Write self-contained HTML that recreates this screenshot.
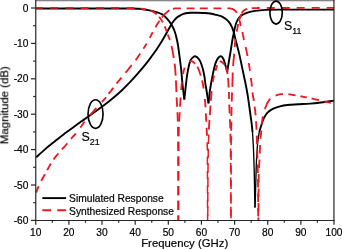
<!DOCTYPE html>
<html><head><meta charset="utf-8"><title>Filter response</title>
<style>
html,body{margin:0;padding:0;background:#fff;}
body{width:342px;height:250px;overflow:hidden;font-family:"Liberation Sans",sans-serif;}
svg{display:block;font-family:"Liberation Sans",sans-serif;}
.tl,.ti,.lg{will-change:transform}
.k{fill:none;stroke:#000;stroke-width:1.9;stroke-linejoin:round;stroke-linecap:butt}
.r{fill:none;stroke:#ee1822;stroke-width:1.85;stroke-dasharray:8.1 7.1;stroke-linejoin:round}
.rd{fill:none;stroke:#ee1822;stroke-width:1.85;stroke-linejoin:round;stroke-linecap:butt}
.ax line{stroke:#262626;stroke-width:1.2}
.tl text{font-size:10.2px;fill:#000;stroke:#000;stroke-width:.2}
.lg text{font-size:10.25px;fill:#000;stroke:#000;stroke-width:.2}
.ti text{font-size:11px;fill:#000;stroke:#000;stroke-width:.2}
</style></head><body>
<svg width="342" height="250" viewBox="0 0 342 250">
<rect width="342" height="250" fill="#fff"/>
<defs><clipPath id="c"><rect x="35.75" y="0.8" width="298.4" height="219.6"/></clipPath></defs>
<g clip-path="url(#c)">
<path class="k"  d="M36.20 157.30C37.52 156.10 41.62 152.27 44.10 150.10C46.58 147.93 49.05 145.97 51.10 144.30C53.15 142.63 54.92 141.28 56.40 140.10C57.88 138.92 58.57 138.33 60.00 137.20C61.43 136.07 63.23 134.63 65.00 133.30C66.77 131.97 68.80 130.50 70.60 129.20C72.40 127.90 74.05 126.77 75.80 125.50C77.55 124.23 78.60 123.38 81.10 121.60C83.60 119.82 87.57 117.12 90.80 114.80C94.03 112.48 97.13 110.22 100.50 107.70C103.87 105.18 107.52 102.53 111.00 99.70C114.48 96.87 118.20 93.67 121.40 90.70C124.60 87.73 127.27 85.00 130.20 81.90C133.13 78.80 136.35 75.15 139.00 72.10C141.65 69.05 144.05 66.15 146.10 63.60C148.15 61.05 149.58 59.12 151.30 56.80C153.02 54.48 154.75 52.12 156.40 49.70C158.05 47.28 159.62 44.88 161.20 42.30C162.78 39.72 164.55 36.58 165.90 34.20C167.25 31.82 168.25 29.87 169.30 28.00C170.35 26.13 170.98 24.70 172.20 23.00C173.42 21.30 175.10 19.17 176.60 17.80C178.10 16.43 179.67 15.57 181.20 14.80C182.73 14.03 184.17 13.54 185.80 13.20C187.43 12.86 189.13 12.82 191.00 12.75C192.87 12.68 195.00 12.76 197.00 12.80C199.00 12.84 200.83 12.88 203.00 13.00C205.17 13.12 208.00 13.23 210.00 13.50C212.00 13.77 213.17 14.15 215.00 14.60C216.83 15.05 219.20 15.47 221.00 16.20C222.80 16.93 224.40 17.93 225.80 19.00C227.20 20.07 228.40 21.30 229.40 22.60C230.40 23.90 231.10 25.30 231.80 26.80C232.50 28.30 233.10 30.00 233.60 31.60C234.10 33.20 234.47 35.00 234.80 36.40C235.13 37.80 235.28 38.73 235.60 40.00C235.92 41.27 236.07 41.57 236.70 44.00C237.33 46.43 238.52 50.78 239.40 54.60C240.28 58.42 241.13 62.80 242.00 66.90C242.87 71.00 243.87 75.68 244.60 79.20C245.33 82.72 245.80 84.77 246.40 88.00C247.00 91.23 247.62 94.78 248.20 98.60C248.78 102.42 249.33 106.80 249.90 110.90C250.47 115.00 251.17 119.68 251.60 123.20C252.03 126.72 252.35 130.53 252.50 132.00"/>
<path class="k" style="stroke-width:1.35" d="M252.50 132.00C252.67 134.93 253.22 143.27 253.50 149.60C253.78 155.93 254.00 162.27 254.20 170.00C254.40 177.73 254.57 189.75 254.70 196.00C254.83 202.25 254.95 205.58 255.00 207.50"/>
<path class="k" style="stroke-width:1.35" d="M255.00 207.50C255.07 205.58 255.20 202.58 255.40 196.00C255.60 189.42 255.95 175.17 256.20 168.00C256.45 160.83 256.62 157.53 256.90 153.00C257.18 148.47 257.50 144.30 257.90 140.80C258.30 137.30 259.07 133.47 259.30 132.00"/>
<path class="k"  d="M259.30 132.00C259.65 130.83 260.62 127.35 261.40 125.00C262.18 122.65 262.98 119.97 264.00 117.90C265.02 115.83 266.03 114.12 267.50 112.60C268.97 111.08 270.72 109.85 272.80 108.80C274.88 107.75 277.58 106.93 280.00 106.30C282.42 105.67 284.32 105.33 287.30 105.00C290.28 104.67 294.08 104.53 297.90 104.30C301.72 104.07 306.38 103.90 310.20 103.60C314.02 103.30 317.87 102.85 320.80 102.50C323.73 102.15 325.58 101.82 327.80 101.50C330.02 101.18 333.05 100.75 334.10 100.60"/>
<path class="k"  d="M35.50 8.45C42.92 8.45 64.25 8.43 80.00 8.45C95.75 8.47 119.90 8.46 130.00 8.55C140.10 8.64 137.37 8.69 140.60 9.00C143.83 9.31 146.77 9.87 149.40 10.40C152.03 10.93 154.20 11.50 156.40 12.20C158.60 12.90 160.83 13.52 162.60 14.60C164.37 15.68 165.53 17.05 167.00 18.70C168.47 20.35 170.08 22.28 171.40 24.50C172.72 26.72 173.93 29.25 174.90 32.00C175.87 34.75 176.67 38.67 177.20 41.00C177.73 43.33 177.72 43.50 178.10 46.00C178.48 48.50 179.00 52.17 179.50 56.00C180.00 59.83 180.58 64.17 181.10 69.00C181.62 73.83 182.07 79.92 182.60 85.00C183.13 90.08 184.02 97.08 184.30 99.50"/>
<path class="k"  d="M184.30 99.50C184.55 97.25 185.30 90.27 185.80 86.00C186.30 81.73 186.60 77.97 187.30 73.90C188.00 69.83 189.12 64.30 190.00 61.60C190.88 58.90 191.73 58.58 192.60 57.70C193.47 56.82 194.17 56.08 195.20 56.30C196.23 56.52 197.77 57.68 198.80 59.00C199.83 60.32 200.53 61.72 201.40 64.20C202.27 66.68 203.33 70.60 204.00 73.90C204.67 77.20 205.02 81.48 205.40 84.00C205.78 86.52 205.78 85.77 206.30 89.00C206.82 92.23 208.13 101.00 208.50 103.40"/>
<path class="k"  d="M208.50 103.40C208.80 100.83 209.57 92.92 210.30 88.00C211.03 83.08 212.03 78.00 212.90 73.90C213.77 69.80 214.63 66.03 215.50 63.40C216.37 60.77 217.17 59.28 218.10 58.10C219.03 56.92 220.22 56.15 221.10 56.30C221.98 56.45 222.72 57.65 223.40 59.00C224.08 60.35 224.57 62.23 225.20 64.40C225.83 66.57 226.87 70.73 227.20 72.00"/>
<path class="k"  d="M227.20 72.00C227.47 70.33 228.23 65.42 228.80 62.00C229.37 58.58 230.00 55.17 230.60 51.50C231.20 47.83 231.90 42.92 232.40 40.00C232.90 37.08 233.20 36.00 233.60 34.00C234.00 32.00 234.30 30.00 234.80 28.00C235.30 26.00 235.90 23.70 236.60 22.00C237.30 20.30 238.00 19.00 239.00 17.80C240.00 16.60 241.20 15.67 242.60 14.80C244.00 13.93 245.33 13.25 247.40 12.60C249.47 11.95 251.93 11.35 255.00 10.90C258.07 10.45 261.63 10.12 265.80 9.90C269.97 9.68 274.30 9.65 280.00 9.60C285.70 9.55 290.98 9.60 300.00 9.60C309.02 9.60 328.42 9.60 334.10 9.60"/>
<path class="rd" d="M36.2 192.6L36.5 191.8L36.8 191.1L37.0 190.5L37.2 189.8L37.5 189.2L37.7 188.5L38.0 187.9L38.2 187.2L38.5 186.6L38.6 186.2M41.3 180.8L41.7 180.0L42.1 179.3L42.5 178.5L42.9 177.7L43.4 176.9L43.8 176.1L44.3 175.2L44.8 174.4L44.8 174.3M47.2 170.1L47.7 169.2L48.2 168.3L48.7 167.4L49.2 166.5L49.7 165.6L50.2 164.7L50.7 163.8L50.9 163.6M53.5 159.6L54.0 158.8L54.6 158.1L55.1 157.3L55.7 156.6L56.3 155.9L56.9 155.2L57.5 154.5L58.1 153.8L58.4 153.4M61.8 149.4L62.3 148.9L63.0 148.1L63.8 147.3L64.5 146.5L65.2 145.8L65.9 145.0L66.5 144.3L67.1 143.7L67.4 143.4M71.0 138.9L71.4 138.4L71.8 137.9L72.3 137.4L72.7 136.9L73.2 136.3L73.8 135.8L74.3 135.2L74.8 134.6L75.4 134.0L75.8 133.5M80.3 127.6L80.9 126.8L81.5 126.0L82.1 125.1L82.7 124.2L83.2 123.4L83.8 122.7L84.3 121.9L84.6 121.6M90.2 115.2L90.6 114.7L91.0 114.2L91.4 113.7L91.9 113.2L92.3 112.6L92.8 112.1L93.2 111.6L93.7 111.1L94.1 110.6L94.5 110.0L95.0 109.5L95.4 109.1L95.9 108.6L96.3 108.1L96.4 108.0M101.9 102.1L102.5 101.4L102.9 100.9L103.4 100.4L103.8 99.9L104.3 99.3L104.7 98.8L105.2 98.3L105.6 97.8L106.0 97.2L106.0 97.2M108.7 93.8L109.2 93.2L109.6 92.6L110.1 92.0L110.6 91.4L111.1 90.8L111.6 90.1L112.1 89.4L112.7 88.6L113.3 87.8L113.3 87.8M116.6 83.5L117.3 82.6L117.9 81.9L118.5 81.2L119.1 80.5L119.7 79.8L120.2 79.1L120.8 78.4L121.4 77.7M125.5 72.8L126.1 72.0L126.7 71.3L127.3 70.6L127.9 69.8L128.5 69.1L129.1 68.3L129.7 67.6L130.3 66.9L130.9 66.1L131.4 65.4L131.7 65.1M135.6 60.1L136.0 59.6L136.5 58.9L137.0 58.2L137.5 57.4L138.1 56.6L138.7 55.7L139.4 54.8L139.7 54.3L140.1 53.7L140.2 53.5M143.4 48.7L144.0 47.8L144.4 47.2L144.7 46.7L145.0 46.2L145.6 45.2L146.2 44.3L146.6 43.6M149.8 37.8L150.1 37.2L150.5 36.4L150.9 35.7L151.3 34.9L151.7 34.1L152.2 33.3L152.6 32.5L152.8 32.2M155.5 27.2L156.0 26.3L156.4 25.6L156.8 24.9L157.3 24.1L157.8 23.4L158.2 22.7L158.7 22.0L159.2 21.3L159.5 20.8M161.9 17.4L162.4 16.8L162.8 16.2L163.2 15.8L163.7 15.2L164.3 14.6L164.7 14.2L165.2 13.7L165.8 13.2L166.4 12.6L167.0 12.1L167.7 11.5L168.4 11.0L169.0 10.5L169.5 10.2M172.9 8.8L173.6 8.7L174.4 8.6L175.1 8.4L175.7 8.4L176.4 8.3L177.0 8.3L178.0 8.3L178.9 8.3L180.0 8.3L180.7 8.3L180.9 8.3M186.6 8.3L188.1 8.3L189.2 8.3L190.3 8.3L191.4 8.3L192.6 8.3L193.8 8.3L194.6 8.3M199.8 8.3L200.8 8.3L201.9 8.3L203.0 8.3L204.0 8.3L205.0 8.3L206.0 8.3L207.0 8.3L207.8 8.3M213.5 8.3L214.2 8.3L215.3 8.3L216.3 8.3L217.3 8.3L218.3 8.3L219.2 8.3L220.2 8.3L221.1 8.3L221.5 8.3M227.4 8.3L228.4 8.3L229.1 8.3L229.8 8.3L230.5 8.4L231.1 8.6L231.8 8.8L232.5 9.0L233.1 9.3L233.7 9.6L234.2 10.0L234.7 10.4L235.3 10.8L235.7 11.3L236.2 11.8L236.6 12.3L236.9 12.8M238.9 18.0L239.1 18.6L239.3 19.5L239.5 20.3L239.7 21.1L239.9 21.9L240.1 22.8L240.3 23.7L240.4 24.3L240.5 24.9L240.6 25.5L240.8 26.0M242.3 32.0L242.4 32.6L242.6 33.3L242.8 34.0L242.9 34.7L243.1 35.3L243.2 36.0L243.4 36.7L243.5 37.3L243.6 38.0L243.7 38.7L243.9 39.4L244.0 40.0M245.6 47.0L245.8 47.9L245.9 48.5L246.1 49.2L246.2 49.8L246.4 50.5L246.6 51.2L246.7 51.9L246.9 52.7L247.0 53.4L247.2 54.2L247.3 55.0L247.5 55.7L247.5 56.0M248.8 63.0L248.9 63.9L249.1 64.8L249.2 65.7L249.3 66.6L249.5 67.5L249.6 68.4L249.8 69.4L249.9 70.4L250.0 71.0M250.9 78.0L251.0 78.8L251.1 79.4L251.2 80.1L251.2 80.7L251.3 81.3L251.5 82.4L251.6 83.5L251.7 84.5L251.8 85.4L251.9 86.3L251.9 86.4M252.5 92.4L252.6 93.3L252.7 94.1L252.8 94.9L253.0 95.8L253.1 96.6L253.3 97.5L253.4 98.3L253.6 99.2L253.7 100.1L253.8 100.8M254.7 106.7L254.8 107.7L254.9 108.7L255.1 109.7L255.2 110.7L255.3 111.7L255.4 112.8L255.5 113.9L255.6 115.0L255.6 115.2M256.1 121.2L256.1 122.3L256.2 122.9L256.2 123.6L256.2 124.2L256.3 124.9L256.3 125.5L256.3 126.2L256.4 126.9L256.4 127.6L256.4 128.3L256.5 129.0L256.5 129.7M256.7 135.7L256.8 136.8L256.8 137.7L256.9 138.5L256.9 139.4L256.9 140.3L256.9 141.2L257.0 142.1L257.0 142.9L257.0 143.8L257.0 144.2M257.2 150.1L257.2 151.2L257.3 152.1L257.3 153.0L257.3 153.9L257.4 154.8L257.4 155.6L257.4 156.5L257.4 157.3L257.5 158.1L257.5 158.6M257.7 164.6L257.7 165.7L257.7 166.7L257.7 167.7L257.8 168.7L257.8 169.8L257.8 170.9L257.8 172.1L257.9 173.1M257.9 179.1L258.0 180.8L258.0 182.7L258.0 184.6L258.0 186.6L258.0 187.6M258.1 193.6L258.1 195.2L258.1 197.4L258.1 199.6L258.1 201.8L258.1 202.1M258.1 208.1L258.1 210.1L258.2 211.9L258.2 213.7L258.2 215.3L258.2 216.6"/>
<path class="rd" d="M258.4 220.4L258.4 219.4L258.4 218.2L258.4 217.4M258.4 211.4L258.5 209.8L258.5 207.8L258.5 205.8L258.5 203.6L258.5 202.9M258.5 196.9L258.5 194.7L258.5 192.5L258.6 190.3L258.6 188.4M258.6 182.4L258.6 180.5L258.7 178.8L258.7 177.3L258.7 176.0L258.7 174.8L258.7 173.9M259.0 167.9L259.0 166.9L259.1 165.9L259.2 165.0L259.3 164.0L259.3 163.1L259.4 162.0L259.4 161.4L259.5 160.7L259.5 160.0L259.5 159.4M259.8 153.4L259.8 152.6L259.8 151.7L259.9 150.8L259.9 149.9L259.9 149.1L260.0 148.2L260.0 147.4L260.0 146.5L260.1 145.7L260.1 144.9L260.1 144.9M260.4 138.9L260.5 138.0L260.6 137.2L260.7 136.6L260.7 136.0L260.8 135.1L261.0 134.2L261.0 133.5L261.1 132.8L261.2 132.0L261.3 131.1L261.3 130.5M261.8 124.5L261.8 123.8L261.9 122.7L262.0 121.7L262.2 120.7L262.2 120.4M262.2 120.4L262.3 119.7L262.5 118.7L262.6 117.8L262.8 116.9L262.9 116.4M264.9 109.2L265.2 108.3L265.4 107.6L265.7 106.9L266.0 106.1L266.2 105.4L266.5 104.8L266.8 104.1L267.1 103.5L267.4 102.9L267.8 102.3L268.1 101.7L268.4 101.2L268.9 100.5L269.4 99.8L269.9 99.2L270.2 98.8M275.6 95.5L276.2 95.3L276.9 95.1L277.5 94.9L278.1 94.7L278.8 94.6L279.4 94.4L280.0 94.3L280.6 94.2L281.5 94.1L282.4 94.0L282.8 94.0M288.4 94.2L289.0 94.3L289.8 94.4L290.5 94.5L291.2 94.6L292.0 94.8L292.7 94.9L293.5 95.0L294.2 95.2L295.0 95.3L295.6 95.4M300.4 96.2L301.1 96.4L301.8 96.5L302.6 96.6L303.3 96.8L304.1 96.9L304.9 97.1L305.7 97.3L306.6 97.4L306.8 97.5M311.6 98.5L312.5 98.7L313.4 98.9L314.2 99.1L315.1 99.3L315.9 99.5L316.7 99.7L317.4 99.9L318.2 100.0L318.8 100.2M324.4 101.5L325.1 101.7L326.0 101.9L326.9 102.1L327.9 102.2L328.8 102.4L329.8 102.6L330.7 102.8L330.8 102.8"/>
<path class="rd" d="M34.9 8.0L35.9 7.9L37.1 7.9L38.3 7.9L39.8 7.9L41.3 7.9L42.9 7.9L42.9 7.9M50.1 7.9L52.3 7.9L54.3 7.9L56.4 7.9L58.1 7.9M65.4 7.9L67.3 7.9L69.5 7.9L71.7 7.9L73.4 7.9M80.6 8.0L82.0 8.0L84.1 8.0L86.3 8.0L88.5 7.9L88.6 7.9M95.9 7.9L97.8 7.9L100.1 7.9L102.5 7.9L103.9 7.9M111.1 7.9L113.9 7.9L116.1 7.9L118.2 7.9L119.1 7.9M126.4 8.0L127.2 8.0L128.7 8.0L130.0 8.0L131.2 8.0L132.3 8.0L133.2 8.0L134.1 8.1L134.4 8.1M140.4 8.6L141.0 8.6L141.8 8.7L142.6 8.9L143.4 9.0L144.2 9.1L145.0 9.2L145.7 9.3L146.2 9.4M150.4 10.5L151.0 10.7L151.6 11.0L152.3 11.3L152.9 11.6L153.4 11.9L154.0 12.3L154.6 12.7L155.2 13.1L155.8 13.6L156.3 14.0L156.8 14.4M159.1 16.8L159.5 17.3L160.0 17.9L160.4 18.5L160.9 19.1L161.3 19.8L161.7 20.5L162.2 21.2L162.5 21.7L162.7 22.3L162.8 22.4M164.7 26.4L165.0 27.2L165.3 27.9L165.6 28.6L165.8 29.3L166.1 29.9L166.4 30.5L166.6 31.2L166.8 31.8L166.9 32.0M167.8 34.4L168.0 35.1L168.3 35.9L168.6 36.7L168.9 37.5L169.1 38.1L169.4 38.7L169.7 39.4L170.0 40.0M171.5 46.0L171.7 47.0L172.0 48.1L172.2 49.2L172.4 50.3L172.6 51.4L172.8 52.5L173.0 53.5L173.2 54.5L173.4 55.5L173.5 56.5L173.7 57.4L173.8 58.0M174.6 63.6L174.7 64.4L174.8 65.5L175.0 66.5L175.1 67.6L175.2 68.7L175.3 69.8L175.3 71.0L175.4 72.1L175.5 73.3L175.6 74.4L175.7 75.6M175.9 80.4L176.0 81.3L176.0 82.0L176.0 82.7L176.1 83.4L176.1 84.1L176.1 84.8L176.1 85.5L176.2 86.2L176.2 86.9L176.2 87.6L176.3 88.4L176.3 89.1L176.3 89.8L176.3 90.6L176.4 91.3L176.4 92.0M176.6 97.4L176.7 98.4L176.7 99.0L176.7 99.7L176.8 100.4L176.8 101.0L176.9 101.7L176.9 102.4L176.9 103.0L177.0 103.7L177.0 104.3L177.1 105.0L177.1 105.7L177.1 106.3L177.2 106.7M177.5 112.2L177.5 113.0L177.5 113.7L177.6 114.3L177.6 115.0L177.6 115.6L177.6 116.3L177.7 116.9L177.7 117.5L177.7 118.1L177.7 118.7L177.8 119.4L177.8 120.0L177.8 120.6L177.8 121.3L177.8 121.5M177.9 126.9L178.0 128.1L178.0 129.0L178.0 130.0L178.0 131.0L178.0 131.9L178.0 132.9L178.1 133.9L178.1 134.9L178.1 135.9L178.1 136.2M178.1 141.7L178.1 142.3L178.1 143.5L178.1 144.7L178.1 146.0L178.2 147.3L178.2 148.6L178.2 150.1L178.2 151.0M178.2 156.4L178.2 158.2L178.2 160.0L178.2 162.0L178.2 164.2L178.2 165.7M178.2 171.1L178.2 174.4L178.2 177.2L178.2 180.1L178.2 180.5M178.2 185.9L178.2 189.1L178.2 192.1L178.2 195.0L178.2 195.2M178.2 200.7L178.2 203.6L178.2 206.3L178.2 208.8L178.2 209.9M178.2 215.4L178.2 217.4L178.2 219.0L178.2 220.4"/>
<path class="rd" d="M180.0 106.7L180.1 105.5L180.1 104.9L180.2 104.2L180.2 103.6L180.3 103.0L180.3 102.4L180.4 101.8L180.4 101.2L180.4 100.6L180.5 100.0L180.5 99.4L180.6 98.8L180.6 98.2L180.7 97.6L180.7 97.4M179.1 121.5L179.2 120.8L179.2 120.1L179.2 119.4L179.3 118.7L179.3 118.0L179.4 117.3L179.4 116.7L179.5 116.0L179.5 115.3L179.5 114.7L179.6 114.0L179.6 113.4L179.7 112.7L179.7 112.2M178.7 136.2L178.7 134.9L178.7 134.0L178.7 133.0L178.8 132.0L178.8 131.0L178.8 130.0L178.8 129.0L178.9 128.1L178.9 127.2L178.9 126.9M178.5 151.0L178.6 150.1L178.6 148.7L178.6 147.3L178.6 146.0L178.6 144.7L178.6 143.5L178.6 142.3L178.6 141.7M178.5 165.7L178.5 164.2L178.5 162.0L178.5 160.0L178.5 158.2L178.5 156.4M178.4 180.5L178.4 177.2L178.4 174.4L178.5 171.6L178.5 171.2M178.4 195.2L178.4 192.1L178.4 189.1L178.4 186.1L178.4 185.9M178.4 210.0L178.4 208.8L178.4 206.3L178.4 203.6L178.4 200.8L178.4 200.7M178.3 220.4L178.4 219.0L178.4 217.4L178.4 215.5L178.4 215.4M181.2 90.0L181.2 89.3L181.3 88.1L181.4 87.0L181.5 85.8L181.6 84.7L181.7 83.6L181.9 82.4L181.9 82.0M183.1 74.0L183.2 73.1L183.4 72.2L183.6 71.2L183.8 70.4L184.0 69.6L184.2 68.9L184.4 68.1L184.5 67.6M189.3 61.5L190.0 61.3L190.7 61.1L191.3 61.1L192.0 61.2L192.6 61.6L193.2 62.0L193.8 62.5L194.4 62.9L194.9 63.5L195.2 63.7M197.4 66.8L197.8 67.5L198.1 68.2L198.4 68.9L198.7 69.6L199.0 70.4L199.3 71.1L199.6 71.9L199.8 72.7L200.1 73.6L200.4 74.4L200.6 75.2L200.7 75.6M202.0 80.4L202.2 81.1L202.4 82.0L202.6 83.0L202.8 84.0L203.0 85.0L203.2 86.0L203.4 87.0L203.6 88.1L203.6 88.4M204.9 99.0L205.0 100.1L205.1 101.3L205.2 102.4L205.3 103.6L205.3 104.7L205.4 105.9L205.5 107.0L205.5 107.3M205.8 113.4L205.9 114.2L205.9 115.4L206.0 116.5L206.1 117.7L206.1 118.8L206.2 120.0L206.3 121.2L206.3 121.7M206.6 127.8L206.6 128.7L206.7 129.4L206.7 130.1L206.7 130.7L206.8 131.9L206.9 133.0L206.9 134.2L207.0 134.9L207.0 135.0"/>
<path class="rd" style="stroke-width:1.5" d="M207.0 135.0L207.0 136.1M207.2 142.2L207.2 143.5L207.2 144.9L207.3 146.4L207.3 148.2L207.3 150.0L207.3 150.5M207.4 156.6L207.4 159.7L207.4 162.7L207.4 164.9M207.4 171.0L207.4 172.5L207.5 175.9L207.5 179.3M207.5 185.4L207.5 186.6L207.5 190.1L207.5 193.6L207.5 193.7M207.5 199.8L207.5 203.6L207.6 206.6L207.6 208.1M207.6 214.2L207.6 216.8L207.6 218.8L207.6 220.4"/>
<path class="rd" d="M210.9 100.7L210.9 99.9L211.0 98.9L211.1 97.9L211.2 96.9L211.2 95.9L211.3 94.9L211.4 93.9L211.5 93.0L211.6 92.0L211.7 91.2M209.8 115.1L209.9 114.3L210.0 113.2L210.0 112.1L210.1 111.0L210.2 109.9L210.3 108.8L210.3 107.7L210.4 106.6L210.5 105.6M208.9 129.5L209.0 128.3L209.0 127.6L209.0 126.8L209.1 126.2L209.1 125.6L209.2 124.4L209.2 123.4L209.3 122.4L209.4 121.6L209.4 120.7L209.5 120.0M208.7 135.0L208.7 134.4M212.7 82.0L212.8 81.4L213.0 80.6L213.1 79.9L213.2 79.3L213.3 78.7L213.5 77.9L213.7 77.1L213.9 76.3L214.2 75.6M215.5 70.8L215.7 70.1L215.9 69.3L216.1 68.5L216.4 67.7L216.6 66.9L216.8 66.2L217.1 65.6L217.2 65.2M219.6 61.4L220.0 61.3"/>
<path class="rd" style="stroke-width:1.5" d="M208.4 143.9L208.4 143.2L208.5 142.0L208.5 140.9L208.5 139.8L208.6 138.7L208.6 137.6L208.7 136.6L208.7 135.6L208.7 135.0M208.1 158.3L208.2 156.4L208.2 154.7L208.2 153.0L208.2 151.5L208.3 150.0L208.3 148.8M208.0 172.7L208.0 171.6L208.0 169.0L208.0 166.5L208.1 164.2L208.1 163.2M207.9 187.1L207.9 186.1L207.9 183.1L207.9 180.1L207.9 177.6M207.8 201.5L207.8 200.8L207.8 198.0L207.8 195.0L207.8 192.1L207.9 192.0M207.7 215.9L207.7 213.5L207.8 211.2L207.8 208.8L207.8 206.4"/>
<path class="rd" d="M220.0 61.3L220.7 61.4L221.3 61.7L222.0 62.1L222.6 62.6L223.1 63.2L223.7 63.6L224.1 64.1L224.4 64.3M226.0 66.8L226.2 67.4L226.4 68.0L226.5 68.6L226.7 69.3L226.9 70.0L227.0 70.8L227.2 71.5L227.3 72.3L227.4 73.1L227.6 74.0L227.6 74.0M228.1 78.0L228.1 78.9L228.2 79.8L228.3 80.8L228.4 81.8L228.4 82.9L228.5 84.0L228.5 85.1L228.6 86.2L228.7 87.4L228.7 87.6M228.9 92.0L228.9 92.7L228.9 93.4L228.9 94.1L229.0 94.9L229.0 95.6L229.0 96.3L229.0 97.1L229.1 97.8L229.1 98.6L229.1 99.0M229.3 104.6L229.3 105.7L229.3 106.3L229.4 106.9L229.4 107.6L229.4 108.2L229.5 108.8L229.5 110.0L229.5 111.1L229.6 112.3L229.7 113.5L229.7 113.6M229.9 119.2L229.9 120.0L229.9 120.7L230.0 121.3L230.0 122.3L230.1 123.2L230.1 124.1L230.2 124.9L230.2 125.9L230.3 127.1L230.3 127.9L230.3 128.2M230.4 133.8L230.4 134.6L230.5 136.2L230.5 138.0L230.5 140.0"/>
<path class="rd" style="stroke-width:1.6" d="M230.5 140.0L230.5 142.3L230.5 142.8M230.6 148.4L230.6 150.8L230.6 154.2L230.6 157.4M230.7 163.0L230.7 165.3L230.7 169.3L230.7 172.0M230.7 177.6L230.7 181.5L230.8 185.5L230.8 186.6M230.8 192.2L230.8 193.5L230.8 197.3L230.8 201.0L230.8 201.2M230.8 206.8L230.8 207.9L230.9 211.0L230.9 213.8L230.9 215.8"/>
<path class="rd" d="M231.8 101.5L231.8 100.0L231.8 99.0L231.9 98.1L231.9 97.3L231.9 96.5L231.9 95.7L232.0 95.0L232.0 94.3L232.0 93.6L232.0 93.0L232.1 92.5M231.4 116.1L231.4 115.1L231.4 113.8L231.4 112.6L231.5 111.4L231.5 110.3L231.5 109.3L231.6 108.3L231.6 107.4L231.6 107.1M231.2 130.7L231.2 129.6L231.2 127.3L231.3 125.2L231.3 123.2L231.3 121.7M231.2 140.0L231.2 137.7L231.2 136.3M232.3 86.8L232.4 85.8L232.4 85.1L232.4 84.5L232.4 83.8L232.4 83.2L232.5 82.5L232.5 81.9L232.5 81.2L232.5 80.5L232.5 79.8L232.5 79.2L232.6 78.5L232.6 77.8L232.6 77.1L232.6 76.5L232.6 75.8L232.6 75.1L232.7 74.4L232.7 73.8L232.7 73.1L232.7 72.5L232.7 72.4M233.1 66.0L233.2 64.9L233.2 64.3L233.3 63.7L233.3 63.1L233.4 62.5L233.4 61.9L233.5 60.7L233.6 59.5L233.8 58.4L233.9 57.3L234.0 56.2L234.1 55.1L234.1 54.1L234.2 54.0M234.7 47.0L234.8 46.1L234.9 45.3L234.9 44.6L235.0 44.0L235.1 43.2L235.1 42.4L235.2 41.8L235.3 41.1L235.3 40.4L235.4 39.8L235.5 39.0L235.5 39.0M236.8 31.6L236.9 30.9L237.1 30.1L237.2 29.2L237.4 28.4L237.5 27.5L237.7 26.6L237.9 25.8L238.0 25.0L238.2 24.2L238.2 24.0M239.6 19.0L239.8 18.4L240.0 17.7L240.3 17.0L240.6 16.2L240.9 15.4L241.2 14.6L241.3 14.2M241.7 13.4L242.0 12.9L242.3 12.2L242.8 11.6L243.2 11.1L243.7 10.6L244.2 10.2L244.7 9.9L245.3 9.6L245.8 9.3L246.4 9.1L247.1 8.9L247.2 8.8M251.7 8.1L252.7 8.1L253.5 8.1L254.4 8.1L255.5 8.1L256.6 8.1L257.7 8.0L259.0 8.0L259.7 8.0M266.7 8.0L267.8 8.0L269.4 8.0L271.0 8.0L272.7 8.0L274.4 8.0L274.7 8.0M281.7 8.0L283.1 8.0L284.9 8.0L286.6 8.0L288.3 8.0L289.7 8.0M296.7 7.9L297.4 7.9L299.4 7.9L301.5 7.9L303.6 7.9L304.7 7.9M311.7 7.9L314.3 7.9L316.4 7.9L318.5 7.9L319.7 7.9M326.7 7.9L327.7 7.9L329.2 7.9L330.6 7.9L331.9 7.9L333.1 7.9L334.1 8.0"/>
<path class="rd" style="stroke-width:1.6" d="M231.1 145.3L231.1 144.5L231.2 141.0L231.2 140.0M231.1 159.9L231.1 156.3L231.1 152.2L231.1 150.9M231.1 174.5L231.1 173.8L231.1 169.3L231.1 165.5M231.0 189.1L231.0 187.0L231.1 182.6L231.1 180.1M231.0 203.7L231.0 199.4L231.0 195.4L231.0 194.7M231.0 218.3L231.0 215.9L231.0 213.2L231.0 210.1L231.0 209.3"/>
</g>
<rect x="35.15" y="0" width="299.45" height="1.3" fill="#858585"/>
<g class="ax">
<line x1="35.75" y1="0" x2="35.75" y2="221"/>
<line x1="333.95" y1="0" x2="333.95" y2="221"/>
<line x1="35.15" y1="220.5" x2="334.6" y2="220.5" style="stroke-width:1.05"/>
<line x1="35.75" y1="220.40" x2="35.75" y2="224.70"/>
<line x1="52.32" y1="220.40" x2="52.32" y2="222.70"/>
<line x1="68.89" y1="220.40" x2="68.89" y2="224.70"/>
<line x1="85.46" y1="220.40" x2="85.46" y2="222.70"/>
<line x1="102.03" y1="220.40" x2="102.03" y2="224.70"/>
<line x1="118.60" y1="220.40" x2="118.60" y2="222.70"/>
<line x1="135.17" y1="220.40" x2="135.17" y2="224.70"/>
<line x1="151.74" y1="220.40" x2="151.74" y2="222.70"/>
<line x1="168.31" y1="220.40" x2="168.31" y2="224.70"/>
<line x1="184.88" y1="220.40" x2="184.88" y2="222.70"/>
<line x1="201.44" y1="220.40" x2="201.44" y2="224.70"/>
<line x1="218.01" y1="220.40" x2="218.01" y2="222.70"/>
<line x1="234.58" y1="220.40" x2="234.58" y2="224.70"/>
<line x1="251.15" y1="220.40" x2="251.15" y2="222.70"/>
<line x1="267.72" y1="220.40" x2="267.72" y2="224.70"/>
<line x1="284.29" y1="220.40" x2="284.29" y2="222.70"/>
<line x1="300.86" y1="220.40" x2="300.86" y2="224.70"/>
<line x1="317.43" y1="220.40" x2="317.43" y2="222.70"/>
<line x1="334.00" y1="220.40" x2="334.00" y2="224.70"/>
<line x1="30.95" y1="8.00" x2="35.75" y2="8.00"/>
<line x1="33.15" y1="25.70" x2="35.75" y2="25.70"/>
<line x1="30.95" y1="43.40" x2="35.75" y2="43.40"/>
<line x1="33.15" y1="61.10" x2="35.75" y2="61.10"/>
<line x1="30.95" y1="78.80" x2="35.75" y2="78.80"/>
<line x1="33.15" y1="96.50" x2="35.75" y2="96.50"/>
<line x1="30.95" y1="114.20" x2="35.75" y2="114.20"/>
<line x1="33.15" y1="131.90" x2="35.75" y2="131.90"/>
<line x1="30.95" y1="149.60" x2="35.75" y2="149.60"/>
<line x1="33.15" y1="167.30" x2="35.75" y2="167.30"/>
<line x1="30.95" y1="185.00" x2="35.75" y2="185.00"/>
<line x1="33.15" y1="202.70" x2="35.75" y2="202.70"/>
<line x1="30.95" y1="220.40" x2="35.75" y2="220.40"/>
</g>
<g class="tl">
<text x="35.75" y="236.2" text-anchor="middle">10</text>
<text x="68.89" y="236.2" text-anchor="middle">20</text>
<text x="102.03" y="236.2" text-anchor="middle">30</text>
<text x="135.17" y="236.2" text-anchor="middle">40</text>
<text x="168.31" y="236.2" text-anchor="middle">50</text>
<text x="201.44" y="236.2" text-anchor="middle">60</text>
<text x="234.58" y="236.2" text-anchor="middle">70</text>
<text x="267.72" y="236.2" text-anchor="middle">80</text>
<text x="300.86" y="236.2" text-anchor="middle">90</text>
<text x="334.00" y="236.2" text-anchor="middle">100</text>
<text x="28.4" y="11.60" text-anchor="end">0</text>
<text x="28.4" y="47.00" text-anchor="end">-10</text>
<text x="28.4" y="82.40" text-anchor="end">-20</text>
<text x="28.4" y="117.80" text-anchor="end">-30</text>
<text x="28.4" y="153.20" text-anchor="end">-40</text>
<text x="28.4" y="188.60" text-anchor="end">-50</text>
<text x="28.4" y="224.00" text-anchor="end">-60</text>
</g>
<g fill="none" stroke="#000" stroke-width="1.65">
<ellipse cx="95.55" cy="114.1" rx="7.5" ry="14.3"/>
<ellipse cx="276.1" cy="12.6" rx="6.2" ry="11.5"/>
</g>
<g class="ti">
<text x="81.5" y="141.3" style="font-size:12.4px">S<tspan dy="4" style="font-size:8.9px">21</tspan></text>
<text x="283.9" y="29.7" style="font-size:12.4px">S<tspan dy="4.3" style="font-size:8.9px">11</tspan></text>
<text x="141.2" y="246.8" style="font-size:11.35px">Frequency (GHz)</text>
<text transform="translate(8.3,144.2) rotate(-90)" style="font-size:11.4px">Magnitude (dB)</text>
</g>
<g class="lg">
<line x1="42.3" y1="198.1" x2="66.1" y2="198.1" stroke="#000" stroke-width="1.9"/>
<line x1="42.3" y1="210.3" x2="66.1" y2="210.3" stroke="#ee1822" stroke-width="1.9" stroke-dasharray="8.9 6"/>
<text x="69.1" y="202.2">Simulated Response</text>
<text x="69.1" y="214.5">Synthesized Response</text>
</g>
</svg>
</body></html>
